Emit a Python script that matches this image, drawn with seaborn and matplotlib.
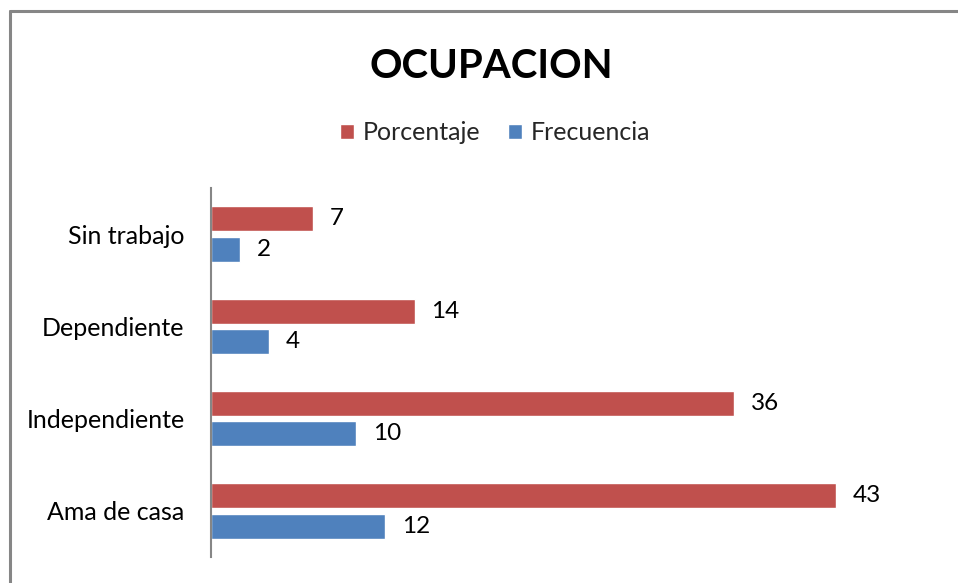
import matplotlib
matplotlib.use("Agg")
import matplotlib.pyplot as plt
import seaborn as sns
import pandas as pd
from matplotlib.patches import Patch

categorias = ["Sin trabajo", "Dependiente", "Independiente", "Ama de casa"]
porcentaje = [7, 14, 36, 43]
frecuencia = [2, 4, 10, 12]
series = ["Porcentaje", "Frecuencia"]
colores = {"Porcentaje": "#C0504D", "Frecuencia": "#4F81BD"}

df = pd.DataFrame({
    "categoria": categorias * 2,
    "valor": porcentaje + frecuencia,
    "serie": ["Porcentaje"] * len(categorias) + ["Frecuencia"] * len(categorias),
})

sns.set_theme(style="white")
plt.rcParams["font.family"] = ["Lato", "DejaVu Sans"]

fig = plt.figure(figsize=(9.58, 5.83), dpi=100)
ax = fig.add_axes([211 / 958, 1 - 557 / 583, (938 - 211) / 958, (557 - 188) / 583])

sns.barplot(data=df, x="valor", y="categoria", hue="serie", order=categorias,
            hue_order=series, palette=colores, orient="h", width=0.66, gap=0.18,
            saturation=1, ax=ax, legend=False)

for cont in ax.containers:
    ax.bar_label(cont, padding=12, fontsize=17.5, color="black")

ax.set_xlim(0, 50)
ax.set_ylim(3.5, -0.5)
ax.set_xlabel("")
ax.set_ylabel("")
ax.set_xticks([])
ax.tick_params(axis="y", labelsize=18, length=0, pad=19, colors="black")
for s in ["top", "right", "bottom"]:
    ax.spines[s].set_visible(False)
ax.spines["left"].set_color("#868686")
ax.spines["left"].set_linewidth(1.5)

fig.text(491 / 958, 1 - 66 / 583, "OCUPACION", ha="center", va="center",
         fontsize=29, fontweight="bold", color="black")

handles = [Patch(facecolor=colores[s], label=s) for s in series]
fig.legend(handles=handles, loc="center", bbox_to_anchor=(495 / 958, 1 - 133 / 583),
           ncol=2, frameon=False, fontsize=18, handlelength=0.56, handleheight=0.56,
           handletextpad=0.35, columnspacing=1.1)

# borde del grafico (solo visible arriba e izquierda)
fig.add_artist(plt.Line2D([9.5 / 958, 9.5 / 958], [0, 1 - 11 / 583], color="#868686", lw=2.2))
fig.add_artist(plt.Line2D([9.5 / 958, 1], [1 - 11 / 583, 1 - 11 / 583], color="#868686", lw=2.2))

fig.savefig("out.png", dpi=100)
